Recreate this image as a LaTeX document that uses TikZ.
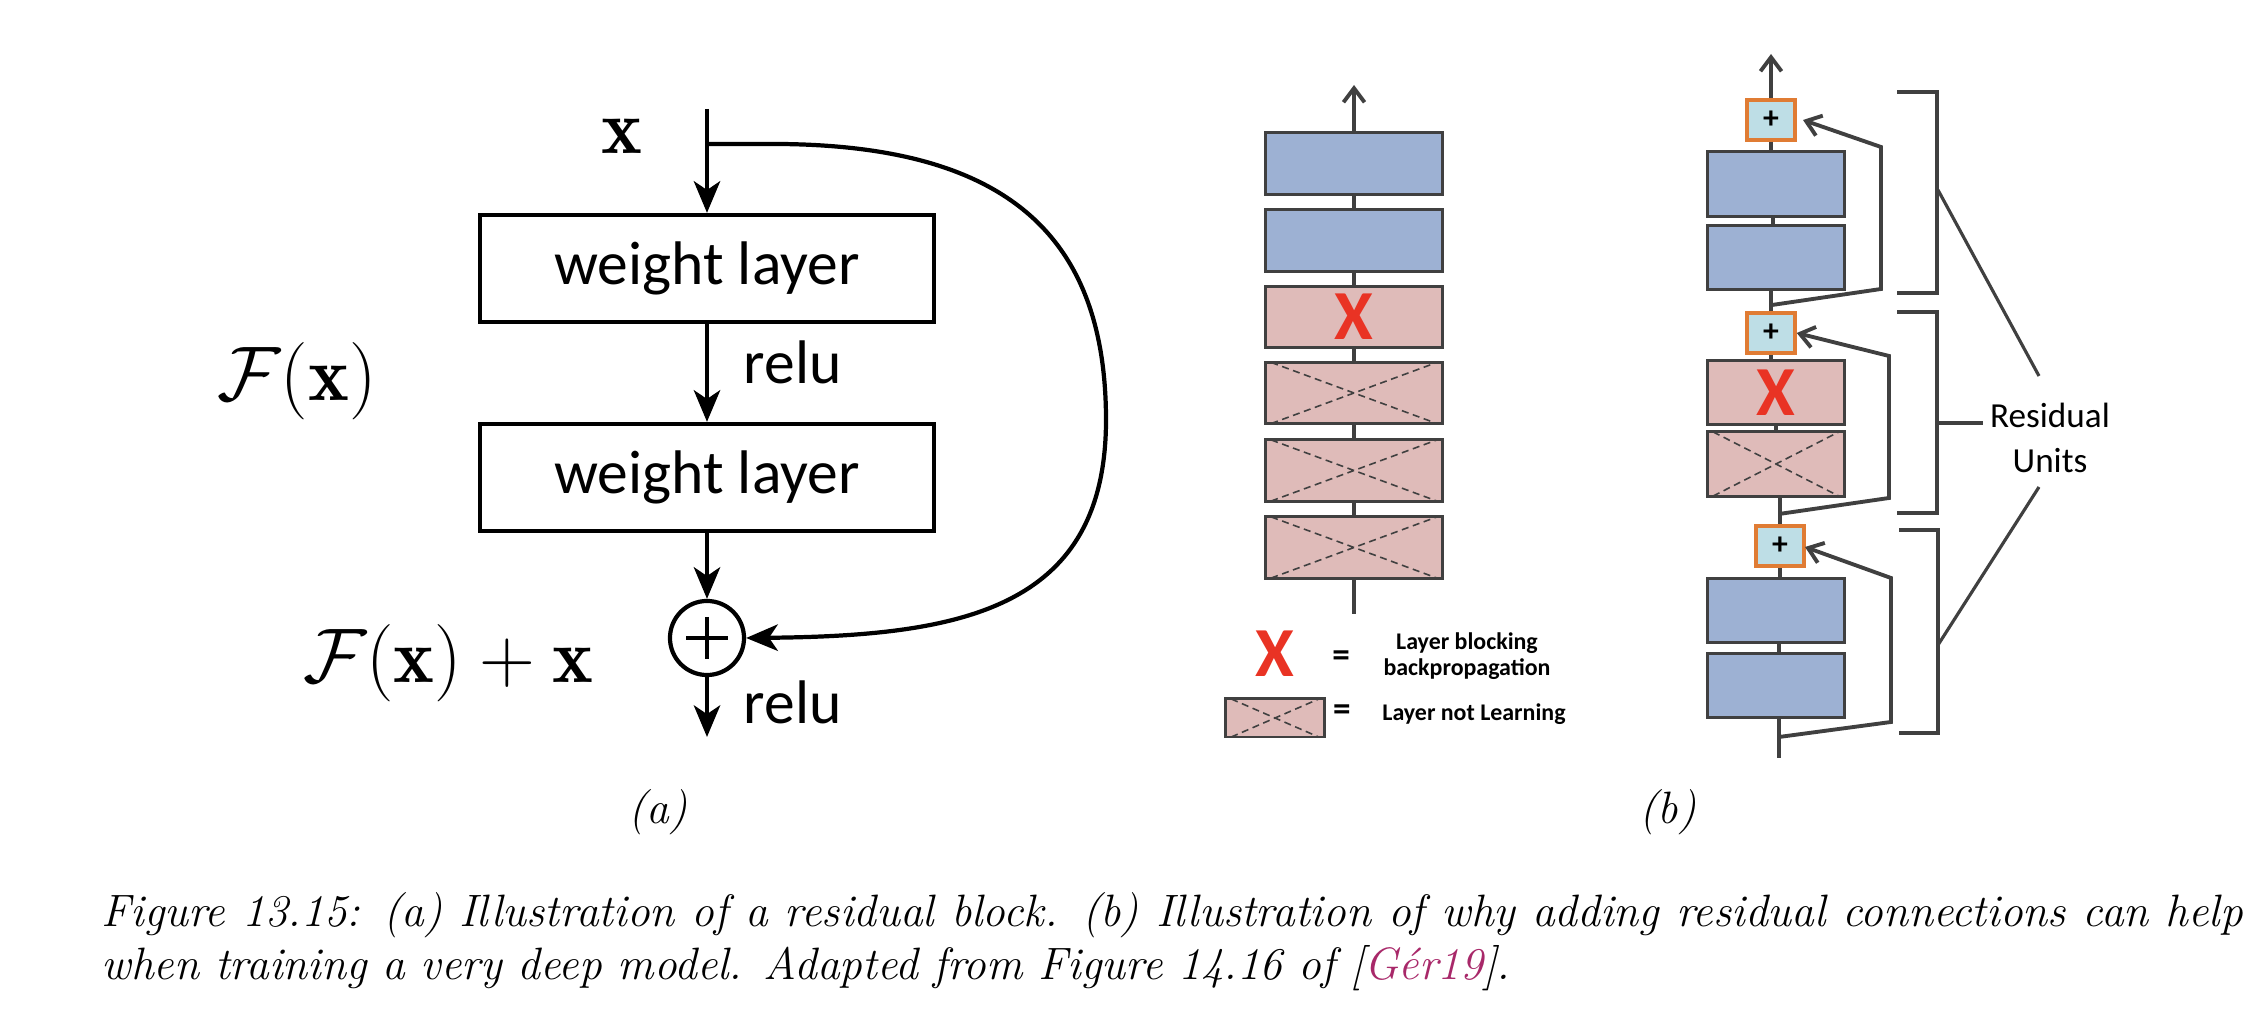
\RequirePackage{fix-cm}
\documentclass[tikz,border=0pt]{standalone}
\usepackage{fontspec}
\usetikzlibrary{arrows.meta}
\newfontfamily\calibri{Carlito}
\definecolor{dgray}{RGB}{64,64,64}
\definecolor{lblue}{RGB}{157,177,211}
\definecolor{lpink}{RGB}{223,187,185}
\definecolor{xred}{RGB}{233,51,36}
\definecolor{pfill}{RGB}{190,222,230}
\definecolor{porange}{RGB}{224,124,52}
\definecolor{citec}{RGB}{168,40,105}
\tikzset{
  wl/.style={draw,line width=1.2pt,minimum width=4.54cm,minimum height=1.07cm,inner sep=0pt,font=\calibri\fontsize{17.5}{21}\selectfont},
  flow/.style={line width=1.2pt,-{Stealth[length=9pt,width=7.5pt,inset=2.5pt]}},
  mathlbl/.style={font=\fontsize{22}{26}\selectfont,inner sep=0pt},
  relulbl/.style={font=\calibri\fontsize{17.5}{21}\selectfont,inner sep=0pt,anchor=west},
  layer/.style={draw=dgray,line width=0.85pt,inner sep=0pt},
  lw/.style={layer,minimum width=1.76cm,minimum height=0.61cm},
  rw/.style={layer,minimum width=1.36cm,minimum height=0.64cm},
  bluel/.style={fill=lblue},
  pinkl/.style={fill=lpink},
  crossed/.style={path picture={\draw[dgray,line width=0.45pt,dash pattern=on 2pt off 1.3pt]
      ([xshift=1.5pt]path picture bounding box.north west) -- ([xshift=-1.5pt]path picture bounding box.south east)
      ([xshift=1.5pt]path picture bounding box.south west) -- ([xshift=-1.5pt]path picture bounding box.north east);}},
  conn/.style={dgray,line width=1.1pt},
  gar/.style={conn,-{Straight Barb[length=4pt,width=6pt]}},
  xmark/.style={text=xred,font=\calibri\bfseries\fontsize{20}{20}\selectfont,inner sep=0pt},
  plusbox/.style={draw=porange,fill=pfill,line width=1pt,minimum width=0.48cm,minimum height=0.40cm,inner sep=0pt,font=\calibri\bfseries\fontsize{9}{9}\selectfont},
  bracket/.style={dgray,line width=1.4pt},
  pointer/.style={dgray,line width=0.9pt},
  legtext/.style={font=\calibri\bfseries\fontsize{6.8}{7.2}\selectfont,inner sep=0pt,align=center},
  eqs/.style={font=\calibri\bfseries\fontsize{10}{10}\selectfont,inner sep=0pt},
  rulbl/.style={font=\calibri\fontsize{10}{12.8}\selectfont,inner sep=0pt,align=center},
  captext/.style={font=\itshape\fontsize{12.9}{15}\selectfont,inner sep=0pt}
}
\begin{document}
\begin{tikzpicture}[x=0.01cm,y=-0.01cm]
\useasboundingbox (0,0) rectangle (2268,1010);

% ---------- panel (a) ----------
\coordinate (xtop) at (707,109);
\coordinate (xsplit) at (707,144);
\coordinate (xbot) at (707,737);
\node[wl] (w1) at (707,268.5) {weight layer};
\node[wl] (w2) at (707,477.5) {weight layer};
\node[draw,circle,line width=1.2pt,minimum size=0.74cm,inner sep=0pt] (circ) at (707,638) {};
\draw[line width=1.2pt] (circ.center) ++(-21,0) -- ++(42,0);
\draw[line width=1.2pt] (circ.center) ++(0,-21) -- ++(0,42);
\draw[flow] (xtop) -- (w1.north);
\draw[flow] (w1.south) -- (w2.north);
\draw[flow] (w2.south) -- (circ.north);
\draw[flow] (circ.south) -- (xbot);
\draw[flow] (xsplit) -- (780,144) .. controls (1000,146) and (1106,230) .. (1106,420)
  .. controls (1106,610) and (960,636) .. (circ.east);
\node[mathlbl] (xl) at (622,136) {$\mathbf{x}$};
\node[relulbl] (r1) at (743,362) {relu};
\node[relulbl] (r2) at (743,702) {relu};
\node[mathlbl] (fx) at (297,381) {$\mathcal{F}(\mathbf{x})$};
\node[mathlbl] (fxx) at (448,663) {$\mathcal{F}(\mathbf{x})+\mathbf{x}$};

% ---------- panel (b), left column ----------
\coordinate (ltop) at (1354,85);
\coordinate (lbot) at (1354,614);
\node[lw,bluel] (l1) at (1354,163.5) {};
\node[lw,bluel] (l2) at (1354,240.5) {};
\node[lw,pinkl,xmark] (l3) at (1354,317) {X};
\node[lw,pinkl,crossed] (l4) at (1354,393) {};
\node[lw,pinkl,crossed] (l5) at (1354,470.5) {};
\node[lw,pinkl,crossed] (l6) at (1354,547.5) {};
\draw[gar] (l1.north) -- (ltop);
\draw[conn] (l1.south) -- (l2.north);
\draw[conn] (l2.south) -- (l3.north);
\draw[conn] (l3.south) -- (l4.north);
\draw[conn] (l4.south) -- (l5.north);
\draw[conn] (l5.south) -- (l6.north);
\draw[conn] (l6.south) -- (lbot);

% legend
\node[xmark] (lgx) at (1275,654) {X};
\node[eqs] (eq1) at (1341,659) {=};
\node[legtext] (lt1) at (1467,656) {Layer blocking\\backpropagation};
\node[layer,pinkl,crossed,minimum width=0.98cm,minimum height=0.38cm] (lgbox) at (1275,718) {};
\node[eqs] (eq2) at (1342,713) {=};
\node[legtext] (lt2) at (1474,714) {Layer not Learning};

% ---------- panel (b), right column ----------
\coordinate (rtop) at (1771,54);
\node[plusbox] (p1) at (1771,120) {+};
\node[rw,bluel] (ra) at (1776,184) {};
\node[rw,bluel] (rb) at (1776,257.5) {};
\node[plusbox] (p2) at (1771,333) {+};
\node[rw,pinkl,xmark] (rx) at (1776,392.5) {X};
\node[rw,pinkl,crossed] (rc) at (1776,464) {};
\node[plusbox] (p3) at (1780,546) {+};
\node[rw,bluel] (rcc) at (1776,610.5) {};
\node[rw,bluel] (rd) at (1776,685.5) {};
\coordinate (rbot) at (1779,758);

\draw[gar] (p1.north) -- (rtop);
\draw[conn] (p1.south) -- (p1.south |- ra.north);
\draw[conn] (ra.south -| 1773,0) -- (rb.north -| 1773,0);
\draw[conn] (rb.south -| p2.north) -- (p2.north);
\draw[conn] (p2.south) -- (p2.south |- rx.north);
\draw[conn] (rx.south -| 1776,0) -- (rc.north -| 1776,0);
\draw[conn] (rc.south -| p3.north) -- (p3.north);
\draw[conn] (p3.south) -- (p3.south |- rcc.north);
\draw[conn] (rcc.south -| 1779,0) -- (rd.north -| 1779,0);
\draw[conn] (rd.south -| rbot) -- (rbot);

\coordinate (s1) at (1772,305);
\coordinate (t1) at (1803,120);
\coordinate (s2) at (1779,514);
\coordinate (s3) at (1779,737);
\coordinate (t3) at (1805,547);
\draw[gar] (s1) -- (1881,289) -- (1881,147) -- (t1);
\draw[gar] (s2) -- (1889,498) -- (1889,356) -- (p2.east);
\draw[gar] (s3) -- (1891,722) -- (1891,578) -- (t3);

% brackets
\draw[bracket] (1897,92) -- (1937,92) -- (1937,293) -- (1897,293);
\draw[bracket] (1897,312) -- (1937,312) -- (1937,513) -- (1897,513);
\draw[bracket] (1899,530) -- (1938,530) -- (1938,733) -- (1899,733);
\node[rulbl] (ru) at (2050,438) {Residual\\Units};
\coordinate (ru1) at (2039,376);
\coordinate (ru2) at (1983,423);
\coordinate (ru3) at (2039,487);
\draw[pointer] (1938,190) -- (ru1);
\draw[pointer] (1938,423) -- (ru2);
\draw[pointer] (1938,645) -- (ru3);

% ---------- captions ----------
\node[captext,anchor=base] (la) at (658,824) {(a)};
\node[captext,anchor=base] (lb) at (1668,824) {(b)};
\node[captext,anchor=base west] (cap1) at (101,927) {\makebox[21.4cm][s]{Figure 13.15: (a) Illustration of a residual block. (b) Illustration of why adding residual connections can help}};
\node[captext,anchor=base west] (cap2) at (101,980) {when training a very deep model. Adapted from Figure 14.16 of [{\color{citec}Gér19}].};
\end{tikzpicture}
\end{document}
